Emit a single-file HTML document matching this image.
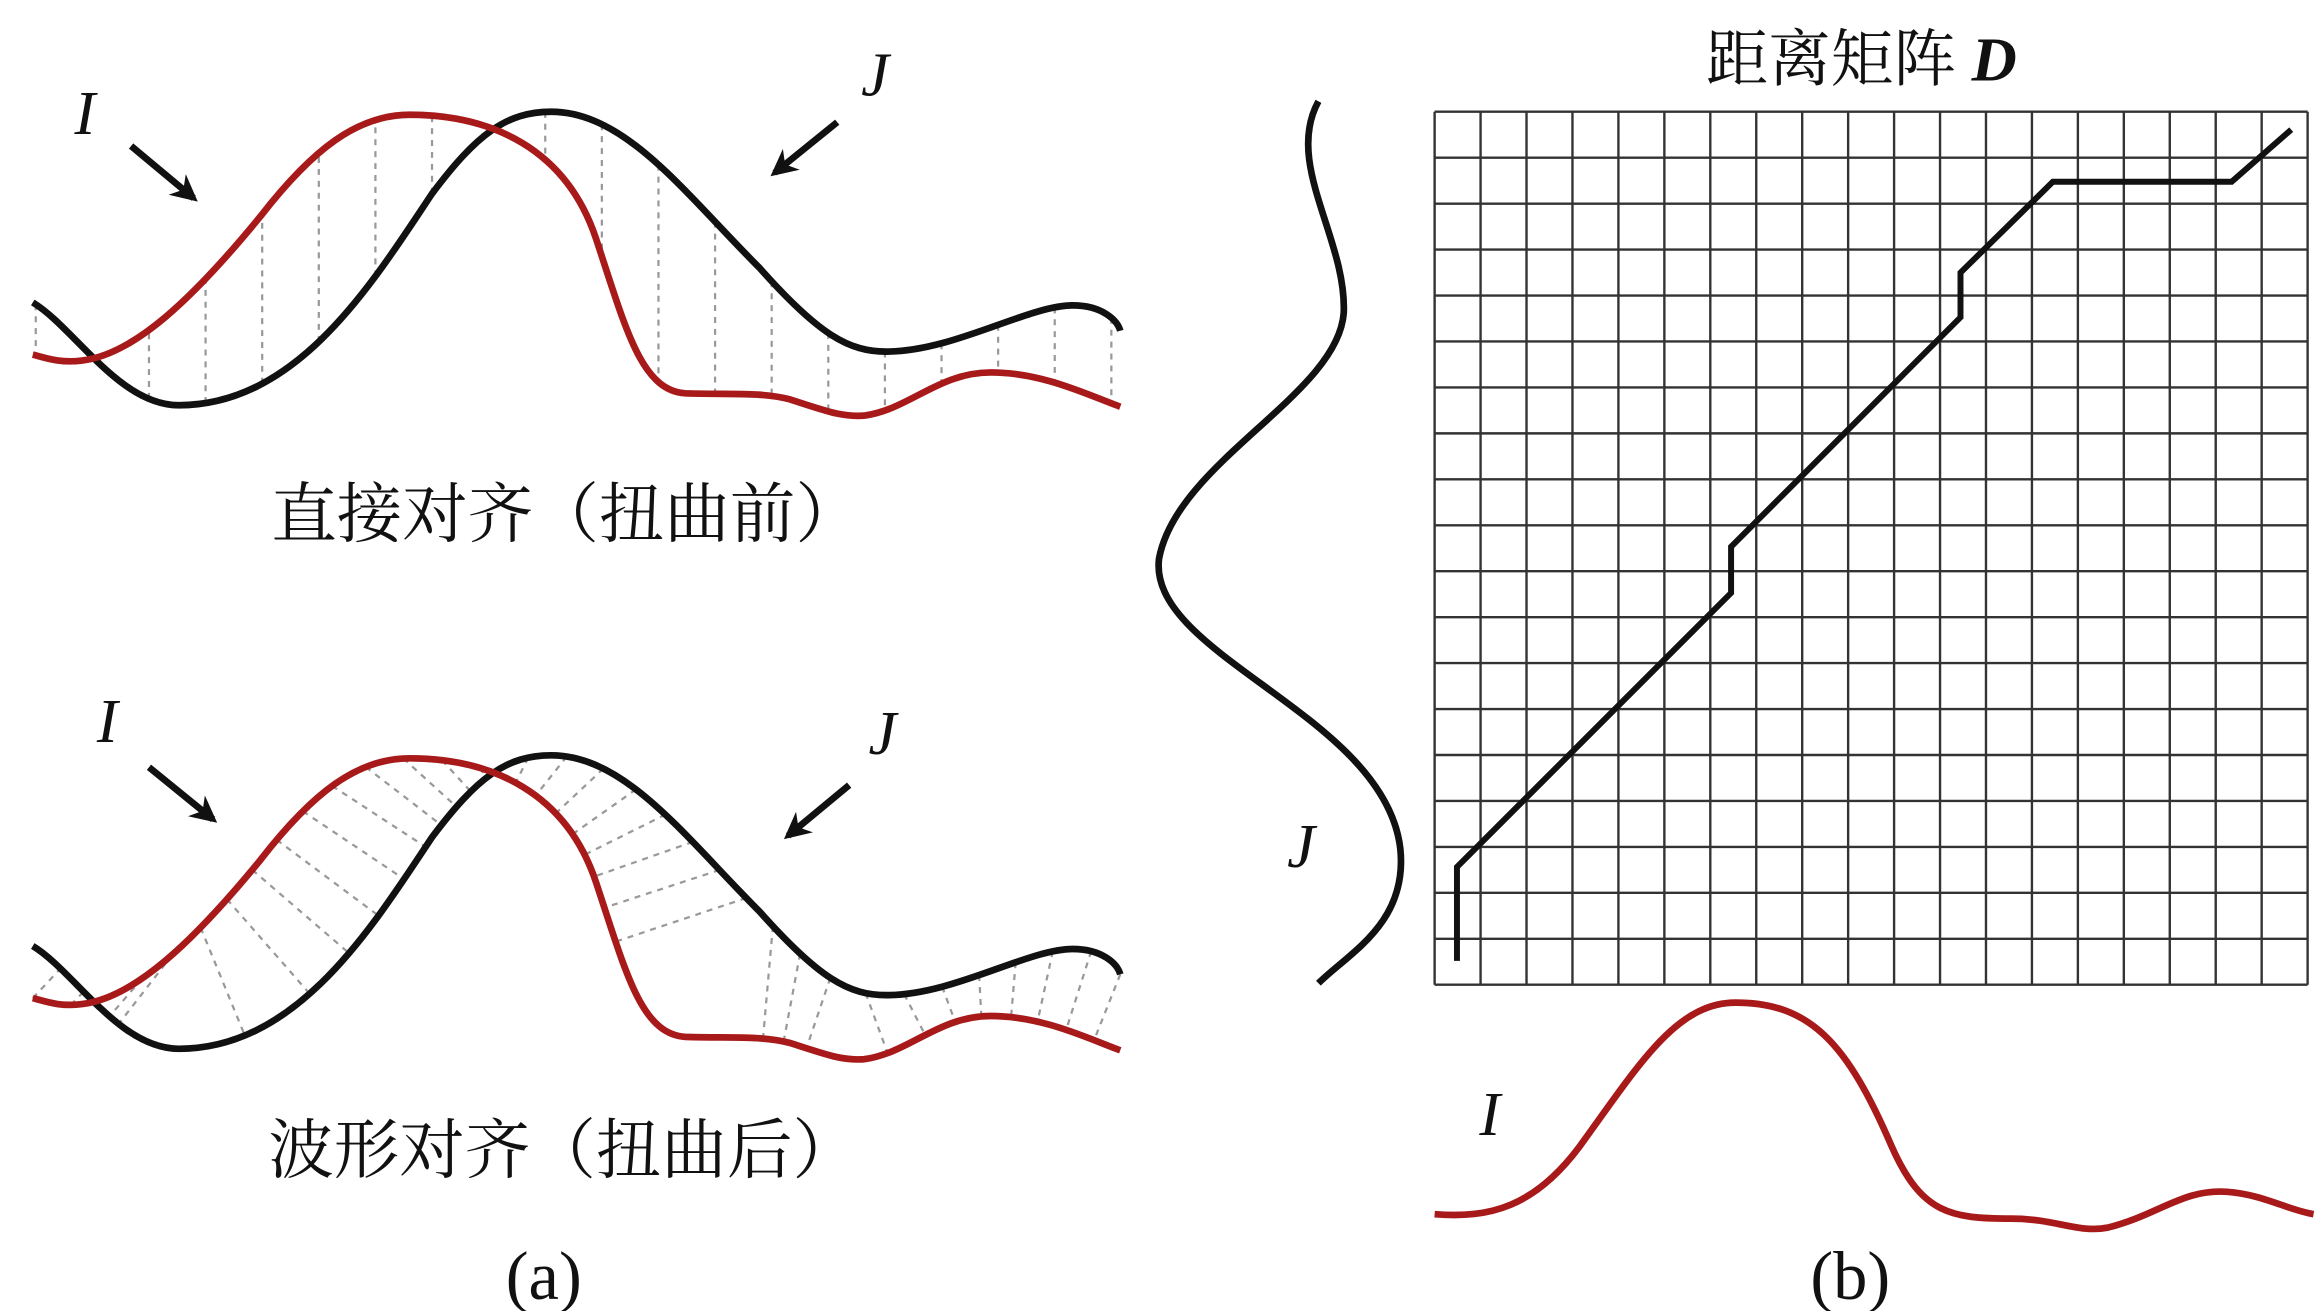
<!DOCTYPE html>
<html><head><meta charset="utf-8"><style>
html,body{margin:0;padding:0;background:#fff;}
svg{display:block;}
.cn{font-family:"Liberation Serif","Noto Serif CJK SC","Noto Sans CJK SC",serif;font-size:44px;fill:#111;}
.it{font-family:"Liberation Serif",serif;font-style:italic;font-size:42px;fill:#111;}
.lb{font-family:"Liberation Serif",serif;font-size:46px;fill:#111;}
</style></head><body>
<svg id="s" width="2324" height="1311" viewBox="0 0 1560 880" xmlns="http://www.w3.org/2000/svg">
<defs>
<marker id="ah" viewBox="0 0 10 10" refX="8" refY="5" markerWidth="4" markerHeight="4" orient="auto"><path d="M0,0 L10,5 L0,10 L3,5 z" fill="#111"/></marker>
</defs>
<g id="dash1" stroke="#999" stroke-width="1.5" stroke-dasharray="4,4"></g>
<g id="dash2" stroke="#999" stroke-width="1.5" stroke-dasharray="4,4"></g>
<path id="bj1" d="M22,203 C50,220 80,272 120,272 C200,272 250,190 290,130 C320,90 340,75 370,75 C420,75 460,130 510,180 C550,225 570,236 595,236 C640,236 690,205 720,205 C740,205 750,215 752,222" fill="none" stroke="#111" stroke-width="4.5"/>
<path id="ri1" d="M22,238 C30,240 40,244 55,242 C90,238 130,200 175,145 C210,100 240,77 275,77 C330,77 380,100 400,160 C420,220 430,262 460,264 C490,265 510,263 530,268 C555,276 565,280 580,279 C610,275 630,250 665,250 C700,250 730,265 752,273" fill="none" stroke="#a81a1a" stroke-width="4.5"/>
<path id="bj2" transform="translate(0,432)" d="M22,203 C50,220 80,272 120,272 C200,272 250,190 290,130 C320,90 340,75 370,75 C420,75 460,130 510,180 C550,225 570,236 595,236 C640,236 690,205 720,205 C740,205 750,215 752,222" fill="none" stroke="#111" stroke-width="4.5"/>
<path id="ri2" transform="translate(0,432)" d="M22,238 C30,240 40,244 55,242 C90,238 130,200 175,145 C210,100 240,77 275,77 C330,77 380,100 400,160 C420,220 430,262 460,264 C490,265 510,263 530,268 C555,276 565,280 580,279 C610,275 630,250 665,250 C700,250 730,265 752,273" fill="none" stroke="#a81a1a" stroke-width="4.5"/>
<text class="it" x="50" y="90">I</text>
<line x1="88" y1="98" x2="130" y2="133" stroke="#111" stroke-width="4.5" marker-end="url(#ah)"/>
<text class="it" x="578" y="64">J</text>
<line x1="562" y1="82" x2="520" y2="116" stroke="#111" stroke-width="4.5" marker-end="url(#ah)"/>
<text class="it" x="65" y="498">I</text>
<line x1="100" y1="515" x2="143" y2="550" stroke="#111" stroke-width="4.5" marker-end="url(#ah)"/>
<text class="it" x="583" y="506">J</text>
<line x1="570" y1="527" x2="529" y2="561" stroke="#111" stroke-width="4.5" marker-end="url(#ah)"/>
<text class="cn" x="380" y="360" text-anchor="middle">直接对齐（扭曲前）</text>
<text class="cn" x="378" y="787" text-anchor="middle">波形对齐（扭曲后）</text>
<text class="lb" x="365" y="872" text-anchor="middle">(a)</text>
<text class="lb" x="1242" y="872" text-anchor="middle">(b)</text>
<text class="cn" x="1145" y="54" style="font-size:42px">距离矩阵 <tspan font-style="italic" font-weight="bold" font-family="Liberation Serif,serif">D</tspan></text>
<g id="grid" stroke="#333" stroke-width="1.6" fill="none"></g>
<polyline points="978,645 978,582 1162,398 1162,367 1316,213 1316,183 1378,122 1498,122 1538,87" fill="none" stroke="#111" stroke-width="4"/>
<path d="M885,68 C862,110 904,160 902,210 C898,265 790,310 778,375 C770,440 930,480 940,570 C945,620 905,640 885,660" fill="none" stroke="#111" stroke-width="4.5"/>
<text class="it" x="864" y="582">J</text>
<path d="M963,815 C1000,818 1030,810 1060,770 C1100,715 1125,673 1165,673 C1215,673 1240,700 1270,770 C1290,815 1310,818 1350,818 C1380,818 1395,828 1415,824 C1450,815 1465,798 1495,800 C1520,802 1535,812 1553,815" fill="none" stroke="#a81a1a" stroke-width="4.5"/>
<text class="it" x="993" y="762">I</text>
</svg>
<script>
(function(){
var NS="http://www.w3.org/2000/svg";
var g=document.getElementById("grid");
var x0=963,y0=75,w=586,n=19,c=w/n;
for(var i=0;i<=n;i++){
 var l=document.createElementNS(NS,"line");l.setAttribute("x1",x0+i*c);l.setAttribute("x2",x0+i*c);l.setAttribute("y1",y0);l.setAttribute("y2",y0+w);g.appendChild(l);
 l=document.createElementNS(NS,"line");l.setAttribute("y1",y0+i*c);l.setAttribute("y2",y0+i*c);l.setAttribute("x1",x0);l.setAttribute("x2",x0+w);g.appendChild(l);
}
function yAt(p,x){var L=p.getTotalLength(),a=0,b=L;for(var k=0;k<40;k++){var m=(a+b)/2;if(p.getPointAtLength(m).x<x)a=m;else b=m;}return p.getPointAtLength(a).y;}
function add(gr,x1,y1,x2,y2){var l=document.createElementNS(NS,"line");l.setAttribute("x1",x1);l.setAttribute("x2",x2);l.setAttribute("y1",y1);l.setAttribute("y2",y2);gr.appendChild(l);}
var b1=document.getElementById("bj1"),r1=document.getElementById("ri1"),d1=document.getElementById("dash1");
for(var x=24;x<=750;x+=38){add(d1,x,yAt(b1,x),x,yAt(r1,x));}
var b2=document.getElementById("bj2"),r2=document.getElementById("ri2"),d2=document.getElementById("dash2");
function samples(p){var L=p.getTotalLength(),a=[];for(var s=0;s<=L;s+=2){var q=p.getPointAtLength(s);a.push([q.x,q.y]);}return a;}
var SB=samples(b2),SR=samples(r2);
function nearest(pt,S){var best=null,bd=1e9;for(var i=0;i<S.length;i++){var dx=S[i][0]-pt[0],dy=S[i][1]-pt[1],d=dx*dx+dy*dy;if(d<bd){bd=d;best=S[i];}}return best;}
var Lr=r2.getTotalLength(),Lb=b2.getTotalLength();
for(var s=0;s<=Lr;s+=26){var q=r2.getPointAtLength(s);if(q.x>330)break;var p=[q.x,q.y],nb=nearest(p,SB);add(d2,p[0],p[1]+432,nb[0],nb[1]+432);}
for(var s=Lb;s>=0;s-=26){var q=b2.getPointAtLength(s);if(q.x<330)break;var p=[q.x,q.y],nr=nearest(p,SR);add(d2,p[0],p[1]+432,nr[0],nr[1]+432);}
})();
</script>
</body></html>
